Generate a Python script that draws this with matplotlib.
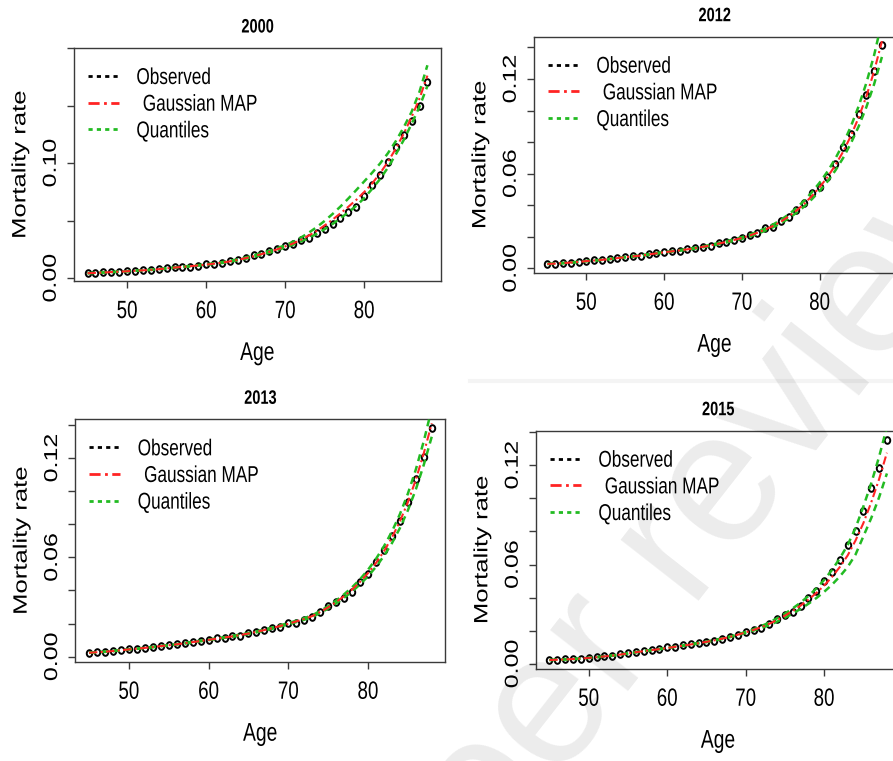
import matplotlib.pyplot as plt
from matplotlib.lines import Line2D
from matplotlib.markers import MarkerStyle
from matplotlib.patheffects import AbstractPathEffect
from matplotlib.transforms import Affine2D

ages = list(range(45, 89))

# observed rates, ages 45..88
obs_2000 = [0.0041, 0.0044, 0.0049, 0.0054, 0.0054, 0.0062, 0.0062, 0.0067, 0.0069, 0.0075,
            0.0087, 0.0093, 0.0095, 0.0100, 0.0108, 0.0118, 0.0123, 0.0133, 0.0144, 0.0160,
            0.0177, 0.0200, 0.0213, 0.0237, 0.0254, 0.0276, 0.0298, 0.0332, 0.0352, 0.0391,
            0.0429, 0.0473, 0.0519, 0.0571, 0.0622, 0.0717, 0.0812, 0.0897, 0.1012, 0.1141,
            0.1244, 0.1367, 0.1500, 0.1706]
map_2000 = [0.0042, 0.0045, 0.0048, 0.0052, 0.0055, 0.0059, 0.0063, 0.0067, 0.0071, 0.0077,
            0.0084, 0.0091, 0.0097, 0.0103, 0.0110, 0.0117, 0.0125, 0.0134, 0.0145, 0.0158,
            0.0173, 0.0190, 0.0208, 0.0228, 0.0250, 0.0275, 0.0300, 0.0333, 0.0370, 0.0410,
            0.0458, 0.0508, 0.0563, 0.0620, 0.0680, 0.0748, 0.0822, 0.0910, 0.1010, 0.1125,
            0.1255, 0.1400, 0.1560, 0.1760]
hi_2000 = [0.0043, 0.0046, 0.0049, 0.0053, 0.0056, 0.0060, 0.0064, 0.0068, 0.0073, 0.0079,
           0.0086, 0.0093, 0.0099, 0.0106, 0.0113, 0.0120, 0.0129, 0.0139, 0.0150, 0.0163,
           0.0179, 0.0197, 0.0216, 0.0237, 0.0260, 0.0285, 0.0315, 0.0352, 0.0395, 0.0443,
           0.0497, 0.0557, 0.0622, 0.0692, 0.0765, 0.0840, 0.0915, 0.0995, 0.1085, 0.1190,
           0.1310, 0.1445, 0.1620, 0.1850]
lo_2000 = [0.0041, 0.0044, 0.0047, 0.0051, 0.0054, 0.0058, 0.0062, 0.0066, 0.0070, 0.0075,
           0.0082, 0.0089, 0.0095, 0.0101, 0.0108, 0.0115, 0.0122, 0.0131, 0.0141, 0.0154,
           0.0168, 0.0184, 0.0201, 0.0220, 0.0242, 0.0268, 0.0290, 0.0318, 0.0350, 0.0385,
           0.0425, 0.0470, 0.0520, 0.0572, 0.0628, 0.0695, 0.0775, 0.0860, 0.0960, 0.1075,
           0.1200, 0.1340, 0.1490, 0.1670]

obs_2012 = [0.0027, 0.0028, 0.0032, 0.0036, 0.0040, 0.0046, 0.0049, 0.0053, 0.0059, 0.0065,
            0.0073, 0.0076, 0.0080, 0.0088, 0.0095, 0.0103, 0.0108, 0.0112, 0.0120, 0.0127,
            0.0137, 0.0142, 0.0158, 0.0168, 0.0182, 0.0190, 0.0211, 0.0225, 0.0253, 0.0263,
            0.0301, 0.0327, 0.0369, 0.0411, 0.0475, 0.0513, 0.0580, 0.0660, 0.0766, 0.0854,
            0.0981, 0.1097, 0.1251, 0.1413]
map_2012 = [0.0027, 0.0029, 0.0032, 0.0036, 0.0040, 0.0045, 0.0049, 0.0053, 0.0058, 0.0064,
            0.0070, 0.0075, 0.0080, 0.0087, 0.0094, 0.0101, 0.0107, 0.0113, 0.0120, 0.0127,
            0.0136, 0.0145, 0.0156, 0.0167, 0.0179, 0.0192, 0.0207, 0.0225, 0.0245, 0.0268,
            0.0295, 0.0328, 0.0365, 0.0408, 0.0458, 0.0514, 0.0578, 0.0652, 0.0738, 0.0838,
            0.0955, 0.1090, 0.1250, 0.1440]
hi_2012 = [0.0028, 0.0030, 0.0033, 0.0037, 0.0041, 0.0046, 0.0050, 0.0054, 0.0059, 0.0065,
           0.0071, 0.0077, 0.0082, 0.0089, 0.0096, 0.0103, 0.0109, 0.0115, 0.0123, 0.0130,
           0.0139, 0.0148, 0.0160, 0.0171, 0.0184, 0.0197, 0.0213, 0.0232, 0.0252, 0.0277,
           0.0306, 0.0341, 0.0381, 0.0428, 0.0482, 0.0543, 0.0613, 0.0694, 0.0788, 0.0898,
           0.1026, 0.1175, 0.1352, 0.1565]
lo_2012 = [0.0026, 0.0028, 0.0031, 0.0035, 0.0039, 0.0044, 0.0048, 0.0052, 0.0057, 0.0063,
           0.0069, 0.0073, 0.0078, 0.0085, 0.0092, 0.0099, 0.0105, 0.0111, 0.0117, 0.0124,
           0.0133, 0.0142, 0.0152, 0.0163, 0.0174, 0.0187, 0.0201, 0.0218, 0.0238, 0.0260,
           0.0285, 0.0316, 0.0351, 0.0391, 0.0438, 0.0490, 0.0550, 0.0619, 0.0698, 0.0791,
           0.0898, 0.1022, 0.1168, 0.1340]

obs_2013 = [0.0024, 0.0026, 0.0030, 0.0034, 0.0040, 0.0046, 0.0048, 0.0054, 0.0060, 0.0066,
            0.0070, 0.0075, 0.0081, 0.0089, 0.0095, 0.0103, 0.0111, 0.0115, 0.0125, 0.0127,
            0.0141, 0.0151, 0.0161, 0.0172, 0.0181, 0.0202, 0.0205, 0.0222, 0.0242, 0.0272,
            0.0306, 0.0329, 0.0353, 0.0393, 0.0450, 0.0500, 0.0570, 0.0645, 0.0729, 0.0822,
            0.0937, 0.1074, 0.1208, 0.1380]
map_2013 = [0.0024, 0.0027, 0.0030, 0.0034, 0.0039, 0.0044, 0.0048, 0.0053, 0.0058, 0.0064,
            0.0069, 0.0075, 0.0081, 0.0088, 0.0095, 0.0102, 0.0109, 0.0116, 0.0123, 0.0131,
            0.0140, 0.0150, 0.0161, 0.0173, 0.0186, 0.0199, 0.0213, 0.0228, 0.0245, 0.0270,
            0.0298, 0.0330, 0.0366, 0.0406, 0.0452, 0.0505, 0.0566, 0.0637, 0.0720, 0.0818,
            0.0933, 0.1070, 0.1230, 0.1410]
hi_2013 = [0.0025, 0.0028, 0.0031, 0.0035, 0.0040, 0.0045, 0.0049, 0.0054, 0.0059, 0.0065,
           0.0070, 0.0076, 0.0083, 0.0090, 0.0097, 0.0104, 0.0111, 0.0118, 0.0126, 0.0134,
           0.0143, 0.0153, 0.0164, 0.0177, 0.0190, 0.0203, 0.0217, 0.0233, 0.0250, 0.0276,
           0.0305, 0.0339, 0.0377, 0.0419, 0.0468, 0.0525, 0.0591, 0.0667, 0.0756, 0.0861,
           0.0985, 0.1131, 0.1303, 0.1500]
lo_2013 = [0.0023, 0.0026, 0.0029, 0.0033, 0.0038, 0.0043, 0.0047, 0.0052, 0.0057, 0.0063,
           0.0068, 0.0074, 0.0079, 0.0086, 0.0093, 0.0100, 0.0107, 0.0114, 0.0120, 0.0128,
           0.0137, 0.0147, 0.0158, 0.0169, 0.0182, 0.0195, 0.0209, 0.0223, 0.0240, 0.0264,
           0.0291, 0.0322, 0.0356, 0.0394, 0.0437, 0.0486, 0.0543, 0.0609, 0.0686, 0.0777,
           0.0884, 0.1011, 0.1160, 0.1330]

obs_2015 = [0.0024, 0.0024, 0.0028, 0.0028, 0.0032, 0.0038, 0.0040, 0.0048, 0.0050, 0.0058,
            0.0068, 0.0074, 0.0080, 0.0084, 0.0090, 0.0100, 0.0104, 0.0114, 0.0118, 0.0124,
            0.0134, 0.0140, 0.0152, 0.0164, 0.0174, 0.0194, 0.0204, 0.0218, 0.0238, 0.0270,
            0.0294, 0.0314, 0.0348, 0.0395, 0.0440, 0.0498, 0.0554, 0.0625, 0.0719, 0.0805,
            0.0925, 0.1061, 0.1185, 0.1355]
map_2015 = [0.0023, 0.0025, 0.0027, 0.0029, 0.0032, 0.0036, 0.0040, 0.0045, 0.0050, 0.0056,
            0.0063, 0.0070, 0.0077, 0.0083, 0.0089, 0.0096, 0.0103, 0.0110, 0.0117, 0.0125,
            0.0133, 0.0142, 0.0152, 0.0163, 0.0176, 0.0190, 0.0205, 0.0222, 0.0242, 0.0265,
            0.0291, 0.0320, 0.0352, 0.0388, 0.0428, 0.0473, 0.0525, 0.0585, 0.0655, 0.0745,
            0.0850, 0.0975, 0.1115, 0.1275]
hi_2015 = [0.0024, 0.0026, 0.0028, 0.0030, 0.0033, 0.0037, 0.0041, 0.0046, 0.0051, 0.0057,
           0.0064, 0.0071, 0.0078, 0.0084, 0.0090, 0.0097, 0.0104, 0.0111, 0.0119, 0.0127,
           0.0135, 0.0144, 0.0154, 0.0165, 0.0178, 0.0193, 0.0209, 0.0228, 0.0250, 0.0275,
           0.0303, 0.0335, 0.0370, 0.0410, 0.0455, 0.0507, 0.0567, 0.0637, 0.0718, 0.0820,
           0.0950, 0.1090, 0.1250, 0.1430]
lo_2015 = [0.0022, 0.0024, 0.0026, 0.0028, 0.0031, 0.0035, 0.0039, 0.0044, 0.0049, 0.0055,
           0.0062, 0.0069, 0.0076, 0.0082, 0.0088, 0.0095, 0.0102, 0.0109, 0.0115, 0.0123,
           0.0131, 0.0140, 0.0150, 0.0161, 0.0174, 0.0187, 0.0201, 0.0216, 0.0234, 0.0255,
           0.0278, 0.0304, 0.0332, 0.0363, 0.0397, 0.0435, 0.0478, 0.0528, 0.0585, 0.0660,
           0.0770, 0.0880, 0.1005, 0.1150]

years = ['2000', '2012', '2013', '2015']
observed = [obs_2000, obs_2012, obs_2013, obs_2015]
gauss_map = [map_2000, map_2012, map_2013, map_2015]
q_upper = [hi_2000, hi_2012, hi_2013, hi_2015]
q_lower = [lo_2000, lo_2012, lo_2013, lo_2015]
ytick_steps = [0.05, 0.02, 0.02, 0.02]
ytick_shown = [['0.00', '0.10'], ['0.00', '0.06', '0.12'], ['0.00', '0.06', '0.12'], ['0.00', '0.06', '0.12']]

FONT = ['Liberation Sans', 'DejaVu Sans']
RED = '#ff2424'
GREEN = '#22bb22'
FRAME = '#3a3a3a'
SQ = 0.75  # the source image is squeezed horizontally


class Squeeze(AbstractPathEffect):
    """Scale drawn text horizontally about its centre (or left edge)."""

    def __init__(self, sx=SQ, anchor='center'):
        super().__init__()
        self.sx = sx
        self.anchor = anchor

    def draw_path(self, renderer, gc, tpath, affine, rgbFace=None):
        ext = tpath.get_extents(affine)
        x0 = ext.x0 if self.anchor == 'left' else 0.5 * (ext.x0 + ext.x1)
        t = affine + Affine2D().translate(-x0, 0).scale(self.sx, 1).translate(x0, 0)
        renderer.draw_path(gc, tpath, t, rgbFace)


W, H = 893, 761
# plot boxes in pixels: left, right, top, bottom
boxes = [(74, 441, 48, 281), (534, 895.3, 36.7, 272.7),
         (75.3, 445.5, 419.3, 661.7), (536, 900.4, 430.7, 668.7)]

fig = plt.figure(figsize=(W / 100, H / 100), dpi=100)
circle = MarkerStyle('o', fillstyle='none', transform=Affine2D().scale(0.82, 1.0))

for i in range(4):
    l, r, t, b = boxes[i]
    axw, axh = r - l, b - t
    ax = fig.add_axes([l / W, 1 - b / H, axw / W, axh / H])

    obs = observed[i]
    # R style 4% range extension
    xr = max(ages) - min(ages)
    yr = max(obs) - min(obs)
    ax.set_xlim(min(ages) - 0.04 * xr, max(ages) + 0.04 * xr)
    ax.set_ylim(min(obs) - 0.04 * yr, max(obs) + 0.04 * yr)

    ax.plot(ages, obs, ls='none', marker=circle, ms=4.8, mew=1.4, mec='black', zorder=2)
    ax.plot(ages, q_upper[i], color=GREEN, lw=1.8, ls=(0, (2.8, 2.0)), zorder=3)
    ax.plot(ages, q_lower[i], color=GREEN, lw=1.8, ls=(0, (2.8, 2.0)), zorder=3)
    ax.plot(ages, gauss_map[i], color=RED, lw=1.5, ls=(0, (4, 1.6, 1, 1.6)), zorder=3)

    sq = [Squeeze()]
    step = ytick_steps[i]
    n = int(round((max(obs) + 0.04 * yr) / step))
    yt = [k * step for k in range(n + 1)]
    ylabs = ['%.2f' % v if '%.2f' % v in ytick_shown[i] else '' for v in yt]
    ax.set_yticks(yt, ylabs, fontsize=18, family=FONT, rotation=90, va='center',
                  path_effects=sq)
    ax.set_xticks([50, 60, 70, 80], ['50', '60', '70', '80'], fontsize=18, family=FONT,
                  path_effects=sq)
    ax.tick_params(axis='both', direction='out', length=5, width=1.0, color=FRAME)
    ax.tick_params(axis='x', pad=8)
    ax.tick_params(axis='y', pad=3)
    for s in ax.spines.values():
        s.set_color(FRAME)
        s.set_linewidth(1.0)

    ax.set_xlabel('Age', fontsize=18.5, family=FONT, va='center', path_effects=sq)
    ax.xaxis.set_label_coords(0.5, -72 / axh)
    ax.set_ylabel('Mortality rate', fontsize=18.5, family=FONT, va='center', path_effects=sq)
    ax.yaxis.set_label_coords(-54 / axw, 0.5)

    ax.text(0.5, 1 + 20 / axh, years[i], transform=ax.transAxes, ha='center',
            va='center', fontsize=14, fontweight='bold', family=FONT, path_effects=sq)

    handles = [Line2D([], [], color='black', lw=2, ls=(0, (1.5, 1.5))),
               Line2D([], [], color=RED, lw=2, ls=(0, (4, 1.6, 1, 1.6))),
               Line2D([], [], color=GREEN, lw=2, ls=(0, (1.5, 1.5)))]
    leg = ax.legend(handles, ['Observed', ' Gaussian MAP', 'Quantiles'], loc='upper left',
                    bbox_to_anchor=(14 / axw, 1 - 18 / axh), frameon=False, borderaxespad=0,
                    borderpad=0, handlelength=1.35, handletextpad=0.75, labelspacing=0.16,
                    prop={'family': FONT, 'size': 16.5})
    for txt in leg.get_texts():
        txt.set_path_effects([Squeeze(anchor='left')])

# faint page separator and review watermark
fig.add_artist(Line2D([470 / W, 1], [1 - 381 / H, 1 - 381 / H], transform=fig.transFigure,
                      color='#f4f4f4', lw=3))
fig.text(682 / W, 1 - 544 / H, 'Peer review', fontsize=135, rotation=52, ha='center',
         va='center', rotation_mode='anchor', color='black', alpha=0.08, family=FONT, zorder=20)

fig.savefig('out.png', dpi=100)
